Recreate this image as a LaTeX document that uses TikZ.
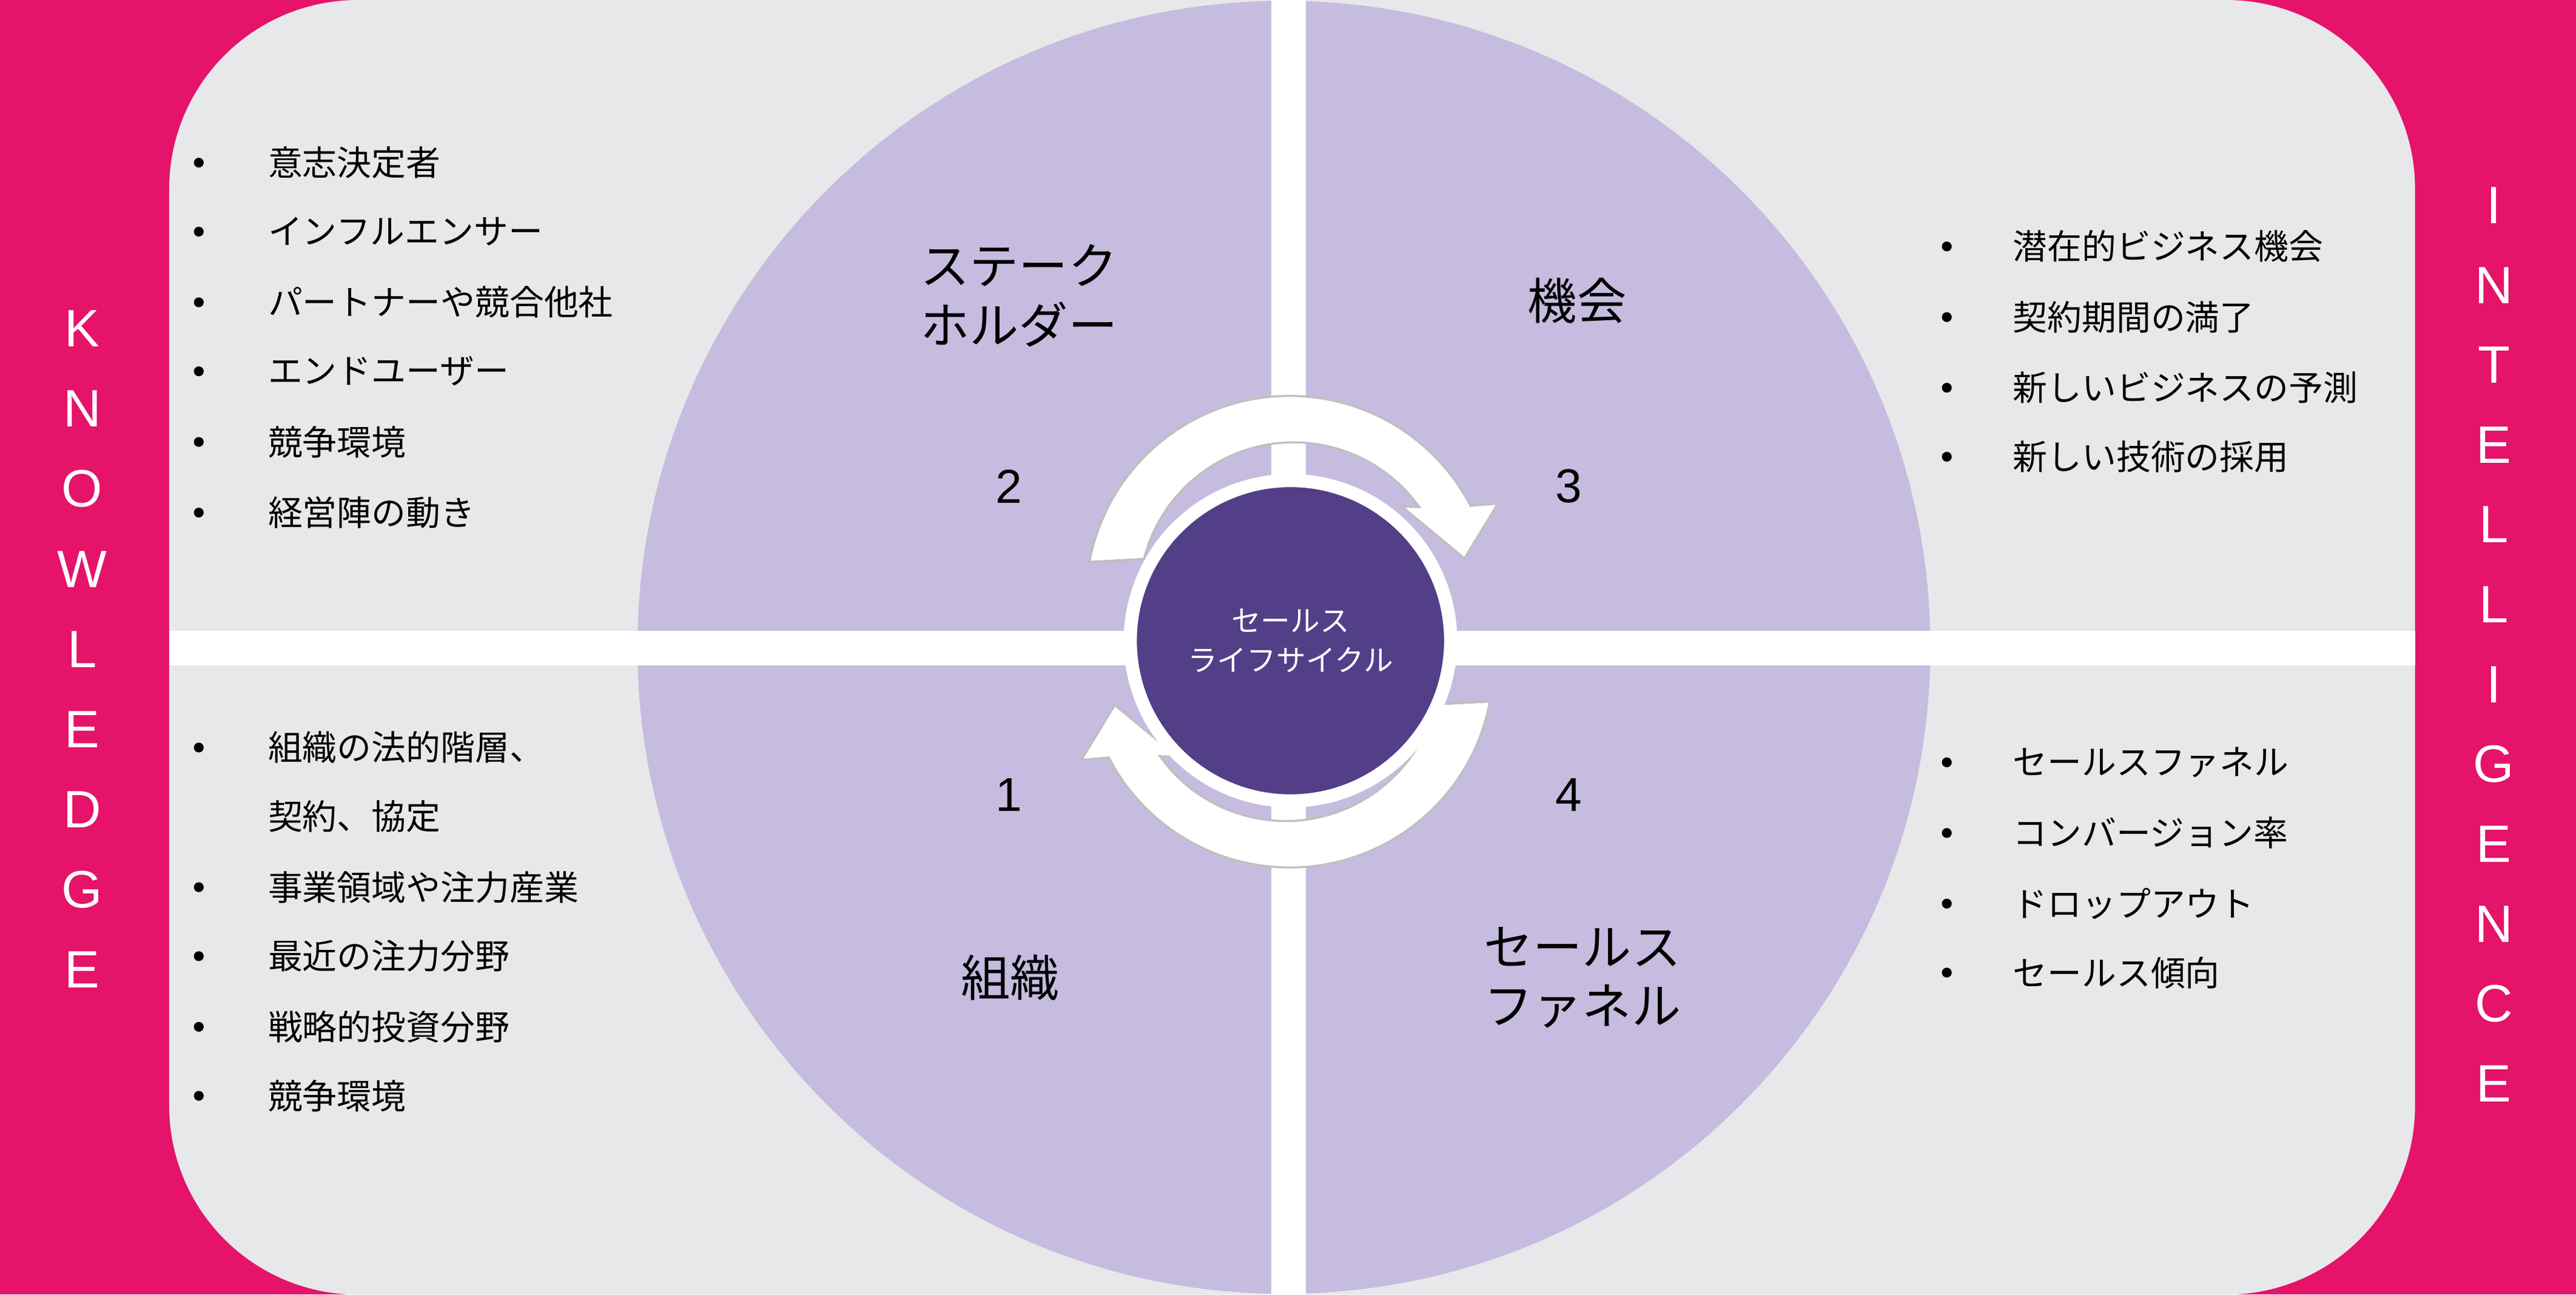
\documentclass[tikz,border=0pt]{standalone}
\usepackage{fontspec}
\setmainfont{Liberation Sans}
\newfontfamily\jp{Noto Sans CJK JP}
\definecolor{pinkbg}{HTML}{E5136A}
\definecolor{greybg}{HTML}{E7E8EA}
\definecolor{lav}{HTML}{C5BCDF}
\definecolor{darkc}{HTML}{533F87}
\begin{document}
\begin{tikzpicture}[x=1pt,y=1pt,
  bul/.style={anchor=west,font=\jp\fontsize{21}{21}\selectfont,inner sep=0},
  dot/.style={circle,fill=black,inner sep=0,minimum size=6},
  head/.style={font=\jp\fontsize{30}{36}\selectfont,align=left,inner sep=0},
  num/.style={font=\fontsize{29}{29}\selectfont,inner sep=0},
  side/.style={font=\fontsize{32}{32}\selectfont,text=white,inner sep=0},
  arr/.style={fill=white,draw=black!25,line width=1.2}]
\useasboundingbox (0,0) rectangle (1568,-788);
\fill[pinkbg] (0,0) rectangle (1568,-788);
\fill[greybg,rounded corners=115] (103,0) rectangle (1470,-788);
\fill[lav] (781.5,-394) circle (393.5);
\fill[white] (774,0) rectangle (795,-788);
\fill[white] (103,-384) rectangle (1470,-405);
% arrows
\begin{scope}[shift={(785,-365)}]
\path[arr] (169.3:124) arc(169.3:27.4:124) -- (126.7,58.5) -- (106.4,25.2) -- (68.5,56.6) -- (35.5:97) arc(35.5:165.8:94) -- cycle;
\end{scope}
\begin{scope}[shift={(785,-404)},rotate=180]
\path[arr] (169.3:124) arc(169.3:27.4:124) -- (126.7,58.5) -- (106.4,25.2) -- (68.5,56.6) -- (35.5:97) arc(35.5:165.8:94) -- cycle;
\end{scope}
\node[circle,fill=darkc,draw=white,line width=8,minimum size=195,inner sep=0] (core) at (785.5,-390) {};
\node[font=\jp\fontsize{18}{24}\selectfont,text=white,align=center] (coret) at (core) {セールス\\ライフサイクル};
% headers
\node[head,anchor=west] (h2) at (560,-180) {ステーク\\ホルダー};
\node[head] (h3) at (960,-183) {機会};
\node[head] (h1) at (615,-595) {組織};
\node[head,anchor=west] (h4) at (903,-595) {セールス\\ファネル};
\node[num] (n2) at (614,-296) {2};
\node[num] (n3) at (955,-296) {3};
\node[num] (n1) at (614,-484) {1};
\node[num] (n4) at (955,-484) {4};
% left top list
\foreach \y/\t [count=\i] in {99/意志決定者,141/インフルエンサー,184/パートナーや競合他社,226/エンドユーザー,269/競争環境,312/経営陣の動き}{
  \node[dot] (lt\i) at (121,-\y) {};
  \node[bul] (ltt\i) at (163,-\y) {\t};}
\foreach \y/\t [count=\i] in {455/組織の法的階層、,540/事業領域や注力産業,582/最近の注力分野,625/戦略的投資分野,667/競争環境}{
  \node[dot] (lb\i) at (121,-\y) {};
  \node[bul] (lbt\i) at (163,-\y) {\t};}
\node[bul] (lbx) at (163,-497) {契約、協定};
\foreach \y/\t [count=\i] in {150/潜在的ビジネス機会,193/契約期間の満了,236/新しいビジネスの予測,278/新しい技術の採用}{
  \node[dot] (rt\i) at (1185,-\y) {};
  \node[bul] (rtt\i) at (1225,-\y) {\t};}
\foreach \y/\t [count=\i] in {464/セールスファネル,507/コンバージョン率,550/ドロップアウト,592/セールス傾向}{
  \node[dot] (rb\i) at (1185,-\y) {};
  \node[bul] (rbt\i) at (1225,-\y) {\t};}
% side words
\foreach \c [count=\i] in {K,N,O,W,L,E,D,G,E}{
  \node[side] (k\i) at (50,-200-48.8*\i+48.8) {\c};}
\foreach \c [count=\i] in {I,N,T,E,L,L,I,G,E,N,C,E}{
  \node[side] (g\i) at (1518,-125-48.6*\i+48.6) {\c};}
\end{tikzpicture}
\end{document}
